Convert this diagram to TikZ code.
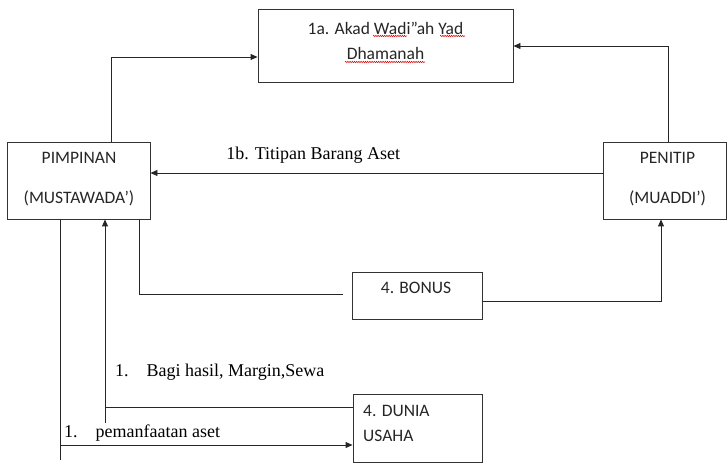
\documentclass[tikz,border=0pt]{standalone}
\usepackage{fontspec}
\setmainfont{Liberation Serif}
\newfontfamily\boxfont{Carlito}
\usepackage{tikz}
\usetikzlibrary{arrows.meta,positioning,calc,decorations.pathmorphing}
\tikzset{
  >={Triangle[length=7pt,width=6pt]},
  box/.style={draw=black!80,line width=0.9pt,rectangle,inner sep=0pt},
  btxt/.style={font=\boxfont\fontsize{17.5}{20}\selectfont,inner sep=0pt,text=black!85},
  lab/.style={font=\fontsize{18}{21}\selectfont,inner sep=0pt},
  arr/.style={->,draw=black!85,line width=0.9pt},
  ln/.style={draw=black!85,line width=0.9pt},
  squig/.style={draw=red!85!black,line width=0.5pt,decorate,decoration={snake,segment length=2.2pt,amplitude=0.7pt}},
}
\begin{document}
\begin{tikzpicture}[x=1pt,y=1pt]
\useasboundingbox (0,0) rectangle (727,466);
% boxes
\node[box,minimum width=255pt,minimum height=73pt] (akad) at (385.5,420) {};
\node[box,minimum width=143pt,minimum height=77pt] (pimpinan) at (78.5,285.5) {};
\node[box,minimum width=123pt,minimum height=77pt] (penitip) at (664.5,285.5) {};
\node[box,minimum width=130pt,minimum height=47pt] (bonus) at (417,170.5) {};
\node[box,minimum width=129pt,minimum height=68pt] (dunia) at (417.5,38) {};
% box texts
\node[btxt] (akad-a) at (385.5,438) {1a. Akad Wadi”ah Yad};
\node[btxt] (akad-b) at (385.5,413) {Dhamanah};
\node[btxt] (pimpinan-a) at (79,308) {PIMPINAN};
\node[btxt] (pimpinan-b) at (79,268) {(MUSTAWADA’)};
\node[btxt] (penitip-a) at (667.5,308) {PENITIP};
\node[btxt] (penitip-b) at (667.5,268) {(MUADDI’)};
\node[btxt] (bonus-t) at (416,178) {4. BONUS};
\node[btxt,anchor=west] (dunia-a) at (363,55) {4. DUNIA};
\node[btxt,anchor=west] (dunia-b) at (363,30) {USAHA};
% spelling marks
\draw[squig] (373,430) -- (407,430);
\draw[squig] (440,430) -- (465,430);
\draw[squig] (345,404) -- (425,404);
% connectors
\draw[arr] ([xshift=32.5pt]pimpinan.north) |- ([yshift=-11pt]akad.west);
\draw[arr] ([xshift=3.5pt]penitip.north) |- (akad.east);
\draw[arr] ([yshift=7.5pt]penitip.west) -- ([yshift=7.5pt]pimpinan.east)
  node[lab,pos=0.64,above=9pt] (titipan) {1b. Titipan Barang Aset};
\draw[ln] ([xshift=60.5pt]pimpinan.south) |- ([xshift=-9pt,yshift=1.5pt]bonus.west);
\draw[arr] ([yshift=-5.5pt]bonus.east) -| ([xshift=-3.5pt]penitip.south);
\coordinate (bagi) at (105,43);
\draw[arr] ([yshift=21pt]dunia.west) -| ([xshift=26.5pt]pimpinan.south);
\draw[ln] (bagi) -- ++(0,17);
\node[lab,anchor=west] (bagi-t) at (115,94) {1.\hspace{1em}Bagi hasil, Margin,Sewa};
\coordinate (aset) at (60,6);
\draw[ln] ([xshift=-18.5pt]pimpinan.south) -- (aset);
\draw[arr] (aset |- 0,21) -- ([yshift=-17pt]dunia.west);
\node[lab,anchor=west] (aset-t) at (64,33) {1.\hspace{1em}pemanfaatan aset};
\end{tikzpicture}
\end{document}
